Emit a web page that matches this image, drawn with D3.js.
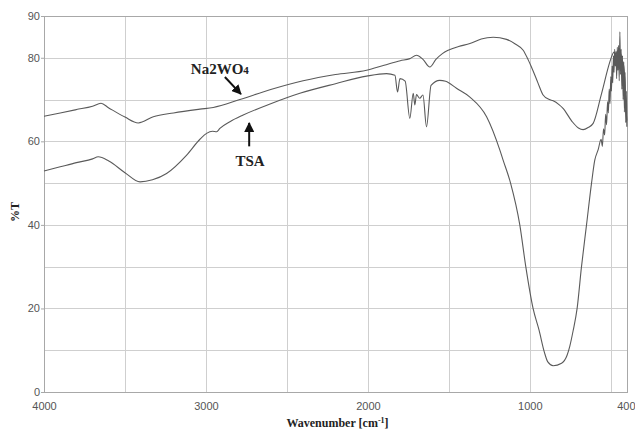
<!DOCTYPE html>
<html>
<head>
<meta charset="utf-8">
<script src="https://cdn.jsdelivr.net/npm/d3@7"></script>
<style>
  body { margin: 0; background: #fff; }
  svg { display: block; }
</style>
</head>
<body>
<div id="chart"></div>
<script>
// Na2WO4 spectrum (wavenumber, %T)
const naWn = [4000, 3900, 3800, 3700, 3648, 3600, 3500, 3418, 3325, 3200, 3037, 2955, 2790, 2600, 2400, 2200, 2008, 1900, 1800, 1741, 1700, 1660, 1617, 1580, 1540, 1504, 1440, 1370, 1300, 1226, 1144, 1090, 1041, 1010, 990, 950, 918, 880, 856, 820, 795, 740, 700, 671, 640, 609, 560, 506, 490, 480, 470, 460, 450, 440, 430, 420, 412, 406, 401];
const naT = [66.0, 66.8, 67.6, 68.4, 69.1, 68.0, 65.8, 64.4, 65.9, 66.8, 67.7, 68.1, 70.0, 72.4, 74.5, 76.0, 77.0, 78.2, 79.3, 79.8, 80.6, 79.6, 77.8, 79.6, 81.0, 81.8, 82.7, 83.4, 84.5, 84.9, 84.4, 83.3, 81.8, 79.5, 77.8, 74.0, 71.1, 70.0, 69.7, 68.8, 67.9, 64.8, 63.2, 62.8, 63.3, 64.3, 71.0, 79.0, 80.8, 81.4, 80.5, 81.6, 80.0, 81.0, 79.5, 78.0, 74.0, 68.0, 65.0];

// TSA spectrum (wavenumber, %T)
const tsaWn = [4000, 3900, 3800, 3700, 3665, 3600, 3500, 3407, 3330, 3243, 3119, 3037, 2996, 2960, 2934, 2914, 2852, 2770, 2600, 2420, 2200, 2008, 1885, 1833, 1817, 1802, 1770, 1741, 1720, 1710, 1700, 1680, 1660, 1638, 1610, 1556, 1520, 1453, 1370, 1267, 1185, 1165, 1119, 1062, 1025, 980, 943, 910, 889, 856, 804, 770, 753, 733, 708, 681, 650, 619, 599, 578, 560, 552, 545, 538, 532, 526, 520, 515, 510, 505, 500, 496, 492, 488, 484, 480, 476, 472, 468, 464, 460, 456, 452, 448, 444, 440, 436, 432, 428, 424, 420, 416, 412, 408, 404, 401];
const tsaT = [52.9, 53.9, 54.9, 55.8, 56.3, 55.3, 52.5, 50.3, 50.8, 52.3, 56.7, 60.5, 61.9, 62.4, 62.3, 63.1, 64.7, 66.3, 69.0, 71.5, 73.8, 75.6, 76.2, 75.8, 71.8, 75.0, 74.4, 65.5, 71.5, 68.7, 71.2, 70.3, 71.1, 63.5, 73.4, 74.6, 74.4, 72.7, 70.6, 65.9, 57.9, 55.5, 50.0, 40.0, 30.0, 20.0, 14.8, 9.5, 7.2, 6.3, 6.9, 8.8, 11.0, 14.6, 20.0, 30.0, 40.0, 50.0, 55.5, 58.0, 60.5, 58.8, 63.0, 61.5, 66.5, 64.0, 69.5, 66.8, 72.5, 69.0, 75.5, 72.0, 78.0, 74.0, 80.5, 76.5, 82.0, 78.0, 81.5, 75.0, 82.5, 77.0, 83.0, 74.5, 86.2, 76.0, 82.0, 72.5, 80.5, 70.0, 79.0, 67.0, 76.5, 64.5, 72.0, 63.5];

const yTicks = [0, 20, 40, 60, 80, 90];
const yGrid = [10, 20, 30, 40, 50, 60, 70, 80];
const xTicks = [4000, 3000, 2000, 1000, 400];
const xGrid = [3500, 3000, 2500, 2000, 1500, 1000, 500];

// annotation anchors in data units
const naLabel = { wn: 2914, t: 76.2, text: "Na2WO", sub: "4" };
const naArrow = { from: [2883, 75.4], to: [2784, 71.3] };
const tsaLabel = { wn: 2728, t: 54.1, text: "TSA" };
const tsaArrow = { from: [2733, 58.8], to: [2733, 64.4] };

const W = 635, H = 432;
const margin = { top: 16, right: 8, bottom: 40, left: 44 };
const width = W - margin.left - margin.right;
const height = H - margin.top - margin.bottom;

const x = d3.scaleLinear().domain([4000, 400]).range([0, width]);
const y = d3.scaleLinear().domain([0, 90]).range([height, 0]);

const root = d3.select("#chart").append("svg")
  .attr("width", W)
  .attr("height", H);

const defs = root.append("defs");
defs.append("marker")
  .attr("id", "head")
  .attr("viewBox", "0 0 10 10")
  .attr("refX", 9).attr("refY", 5)
  .attr("markerWidth", 5).attr("markerHeight", 5)
  .attr("orient", "auto")
  .append("path")
  .attr("d", "M0,0L10,5L0,10z")
  .attr("fill", "#111");

const svg = root.append("g")
  .attr("transform", `translate(${margin.left}, ${margin.top})`);

// grid
svg.append("g").selectAll("line")
  .data(yGrid).join("line")
  .attr("x1", 0).attr("x2", width)
  .attr("y1", d => Math.round(y(d)) + 0.5).attr("y2", d => Math.round(y(d)) + 0.5)
  .attr("stroke", "#cfcfcf");

svg.append("g").selectAll("line")
  .data(xGrid).join("line")
  .attr("y1", 0).attr("y2", height)
  .attr("x1", d => Math.round(x(d)) + 0.5).attr("x2", d => Math.round(x(d)) + 0.5)
  .attr("stroke", "#cfcfcf");

// frame
svg.append("rect")
  .attr("x", 0.5).attr("y", 0.5)
  .attr("width", width).attr("height", height)
  .attr("fill", "none")
  .attr("stroke", "#a8a8a8");

// axes
const yAxis = svg.append("g")
  .call(d3.axisLeft(y).tickValues(yTicks).tickSize(3).tickPadding(1).tickFormat(d3.format("d")));
const xAxis = svg.append("g")
  .attr("transform", `translate(0, ${height})`)
  .call(d3.axisBottom(x).tickValues(xTicks).tickSize(0).tickPadding(10).tickFormat(d3.format("d")));

[yAxis, xAxis].forEach(a => {
  a.select(".domain").remove();
  a.selectAll(".tick line").attr("stroke", "#a8a8a8");
  a.selectAll(".tick text")
    .attr("fill", "#555")
    .style("font-family", "Liberation Sans, Arial, sans-serif")
    .style("font-size", "11px");
});
// last label sits at the right edge; keep it inside the page
xAxis.selectAll(".tick text").filter(d => d === 400)
  .attr("text-anchor", "end")
  .attr("dx", 8);

// spectra
const line = d3.line()
  .x(d => x(d[0]))
  .y(d => y(d[1]))
  .curve(d3.curveMonotoneX);

svg.append("path")
  .datum(naWn.map((w, i) => [w, naT[i]]))
  .attr("d", line)
  .attr("fill", "none")
  .attr("stroke", "#5a5a5a")
  .attr("stroke-width", 1.1);

svg.append("path")
  .datum(tsaWn.map((w, i) => [w, tsaT[i]]))
  .attr("d", line)
  .attr("fill", "none")
  .attr("stroke", "#5a5a5a")
  .attr("stroke-width", 1.1);

// annotations
const serif = "Liberation Serif, Times New Roman, serif";

const naText = svg.append("text")
  .attr("x", x(naLabel.wn)).attr("y", y(naLabel.t))
  .attr("text-anchor", "middle")
  .style("font-family", serif).style("font-size", "15px").style("font-weight", "bold")
  .attr("fill", "#222");
naText.append("tspan").text(naLabel.text);
naText.append("tspan").text(naLabel.sub).style("font-size", "11px");

svg.append("text")
  .attr("x", x(tsaLabel.wn)).attr("y", y(tsaLabel.t))
  .attr("text-anchor", "middle")
  .style("font-family", serif).style("font-size", "15px").style("font-weight", "bold")
  .attr("fill", "#222")
  .text(tsaLabel.text);

[naArrow, tsaArrow].forEach(a => {
  svg.append("line")
    .attr("x1", x(a.from[0])).attr("y1", y(a.from[1]))
    .attr("x2", x(a.to[0])).attr("y2", y(a.to[1]))
    .attr("stroke", "#111")
    .attr("stroke-width", 2)
    .attr("marker-end", "url(#head)");
});

// axis titles
svg.append("text")
  .attr("x", width / 2 + 2).attr("y", height + 35)
  .attr("text-anchor", "middle")
  .style("font-family", serif).style("font-size", "12px").style("font-weight", "bold")
  .attr("fill", "#222")
  .call(t => {
    t.append("tspan").text("Wavenumber [cm");
    t.append("tspan").text("-1").attr("dy", -4).style("font-size", "8px");
    t.append("tspan").text("]").attr("dy", 4);
  });

svg.append("text")
  .attr("transform", `translate(${15 - margin.left}, ${212 - margin.top}) rotate(-90)`)
  .attr("text-anchor", "middle")
  .attr("dy", "0.35em")
  .style("font-family", serif).style("font-size", "12px").style("font-weight", "bold")
  .attr("fill", "#222")
  .text("%T");
</script>
</body>
</html>
